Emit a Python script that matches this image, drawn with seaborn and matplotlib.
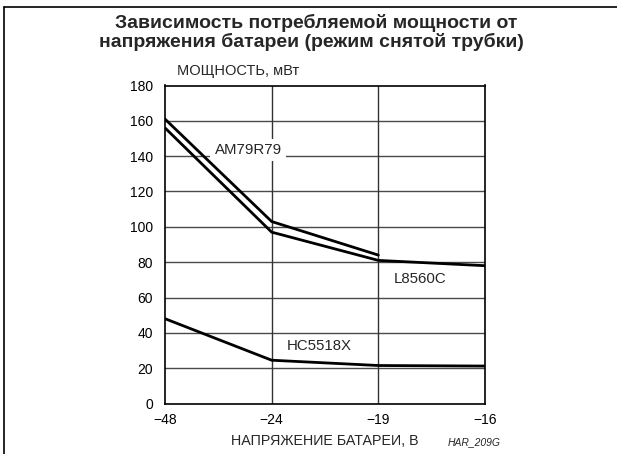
import matplotlib
matplotlib.use("Agg")
import matplotlib.pyplot as plt
import seaborn as sns
import pandas as pd
import numpy as np

voltages = ["\u221248", "\u221224", "\u221219", "\u221216"]
am79r79 = [161, 103, 84, np.nan]
l8560c = [156, 97, 81, 78]
hc5518x = [48, 24.5, 21.5, 21.2]
series_names = ["AM79R79", "L8560C", "HC5518X"]

sns.set_theme(style="white")
plt.rcParams['font.family'] = ['Liberation Sans', 'DejaVu Sans']

rows = []
for name, vals in zip(series_names, [am79r79, l8560c, hc5518x]):
    for i, v in enumerate(vals):
        rows.append({"pos": i, "value": v, "series": name})
df = pd.DataFrame(rows).dropna()

W, H = 617, 454
fig = plt.figure(figsize=(W / 100, H / 100), dpi=100)
ax = fig.add_axes([165 / W, (H - 403.5) / H, 320 / W, 318 / H])

for yv in range(20, 180, 20):
    ax.axhline(yv, color="#4a4a4a", lw=1.0, zorder=1)
for xv in [1, 2]:
    ax.axvline(xv, color="#333333", lw=1.0, zorder=1)

sns.lineplot(data=df, x="pos", y="value", hue="series",
             palette={n: "black" for n in series_names},
             lw=2.0, legend=False, ax=ax, zorder=3)

ax.set_xlim(0, 3)
ax.set_ylim(0, 180)
ax.set_xticks(range(len(voltages)))
ax.set_xticklabels(voltages)
ax.set_yticks(range(0, 181, 20))
ax.tick_params(axis="y", length=0, labelsize=10, colors="black", pad=8.5)
ax.tick_params(axis="x", length=0, labelsize=10, colors="black", pad=7)
for s in ax.spines.values():
    s.set_color("black")
    s.set_linewidth(1.2)
ax.set_xlabel("")
ax.set_ylabel("")

ax.text(0.78, 143.5, "AM79R79", fontsize=10.8, ha="center", va="center", zorder=2,
        bbox=dict(facecolor="white", edgecolor="none", pad=3))
ax.text(2.395, 70.3, "L8560C", fontsize=10.8, ha="center", va="center", zorder=2)
ax.text(1.45, 32.5, "HC5518X", fontsize=10.8, ha="center", va="center", zorder=2)

fig.text(177 / W, 1 - 71 / H, "МОЩНОСТЬ, мВт", fontsize=10.5, ha="left", va="center")
fig.text(325 / W, 1 - 440.7 / H, "НАПРЯЖЕНИЕ БАТАРЕИ, В", fontsize=10.3, ha="center", va="center")
fig.text(448 / W, 1 - 441.7 / H, "HAR_209G", fontsize=7.5, style="italic", ha="left", va="center")
fig.text(316 / W, 1 - 22.5 / H, "Зависимость потребляемой мощности от",
         fontsize=14, fontweight="bold", ha="center", va="center")
fig.text(311 / W, 1 - 42 / H, "напряжения батареи (режим снятой трубки)",
         fontsize=14, fontweight="bold", ha="center", va="center")

# figure frame (top and left)
fig.add_artist(plt.Line2D([4 / W, 1], [1 - 6.5 / H, 1 - 6.5 / H], color="black", lw=1.2, transform=fig.transFigure))
fig.add_artist(plt.Line2D([4 / W, 4 / W], [0, 1 - 6.5 / H], color="black", lw=1.2, transform=fig.transFigure))

fig.savefig("out.png", dpi=100)
